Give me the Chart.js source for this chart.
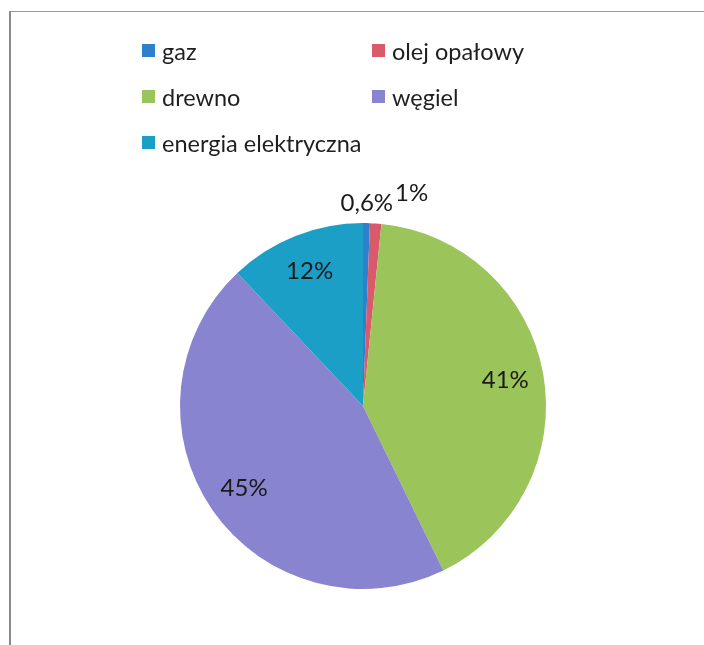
<!DOCTYPE html>
<html>
<head>
<meta charset="utf-8">
<script src="https://cdn.jsdelivr.net/npm/chart.js@4.4.0/dist/chart.umd.min.js"></script>
<style>
  html, body { margin: 0; padding: 0; background: #fff; }
  #wrap { position: relative; width: 704px; height: 645px; overflow: hidden; }
  #frame { position: absolute; left: 9px; top: 11px; right: -2px; bottom: -2px;
           border-top: 1px solid #9a9a9a; border-left: 2px solid #8a8a8a; }
  #myChart { position: absolute; left: 0; top: 0; }
  #legend { position: absolute; left: 142px; top: 36px; width: 420px;
            display: grid; grid-template-columns: 230px 190px; row-gap: 17px;
            font-family: Lato, "Open Sans", sans-serif; font-size: 23.5px; color: #1f1f1f; }
  #legend .item { display: flex; align-items: center; height: 29px; }
  #legend .box { width: 13px; height: 13px; margin-right: 7px; flex: none; }
</style>
</head>
<body>
<div id="wrap">
  <div id="frame"></div>
  <canvas id="myChart" width="704" height="645"></canvas>
  <div id="legend"></div>
</div>
<script>
const labels = ['gaz', 'olej opałowy', 'drewno', 'węgiel', 'energia elektryczna'];
const values = [0.6, 1, 41, 45, 12];
const colors = ['#2d80cc', '#d95a6b', '#9bc45a', '#8884cf', '#1c9fc7'];

function fmt(v){
   return String(v).replace('.', ',') + '%';
}

const legendBox = document.getElementById('legend');
labels.forEach((l, i) => {
   const item = document.createElement('div');
   item.className = 'item';
   const box = document.createElement('span');
   box.className = 'box';
   box.style.background = colors[i];
   const txt = document.createElement('span');
   txt.textContent = l;
   item.appendChild(box);
   item.appendChild(txt);
   legendBox.appendChild(item);
});

const pieLabels = {
  id: 'pieLabels',
  afterDatasetsDraw(chart){
    const c = chart.ctx;
    const arcs = chart.getDatasetMeta(0).data;
    c.save();
    c.font = '24px Lato, "Open Sans", sans-serif';
    c.fillStyle = '#1a1a1a';
    c.textBaseline = 'middle';
    c.textAlign = 'center';
    let prevRight = null;
    arcs.forEach((arc, i) => {
      const p = arc.getProps(['x','y','startAngle','endAngle','outerRadius'], true);
      const mid = (p.startAngle + p.endAngle) / 2;
      const txt = fmt(values[i]);
      const w = c.measureText(txt).width;
      if (values[i] < 5) {
        let r = p.outerRadius * 1.11;
        let x = p.x + Math.cos(mid) * r;
        let y = p.y + Math.sin(mid) * r;
        if (prevRight !== null && x - w / 2 < prevRight) {
          x = prevRight + w / 2 + 2;
          y -= 10;
        }
        c.fillText(txt, x, y);
        prevRight = x + w / 2;
      } else {
        const r = p.outerRadius * 0.79;
        c.fillText(txt, p.x + Math.cos(mid) * r, p.y + Math.sin(mid) * r);
      }
    });
    c.restore();
  }
};

const ctx = document.getElementById('myChart');
new Chart(ctx, {
  type: 'pie',
  data: {
    labels: labels,
    datasets: [{
      data: values,
      backgroundColor: colors,
      borderWidth: 0,
      hoverOffset: 0,
      offset: 0
    }]
  },
  options: {
    responsive: false,
    animation: false,
    layout: { padding: { left: 180, right: 158, top: 223, bottom: 56 } },
    plugins: {
      legend: { display: false },
      tooltip: { enabled: false }
    }
  },
  plugins: [pieLabels]
});
</script>
</body>
</html>
